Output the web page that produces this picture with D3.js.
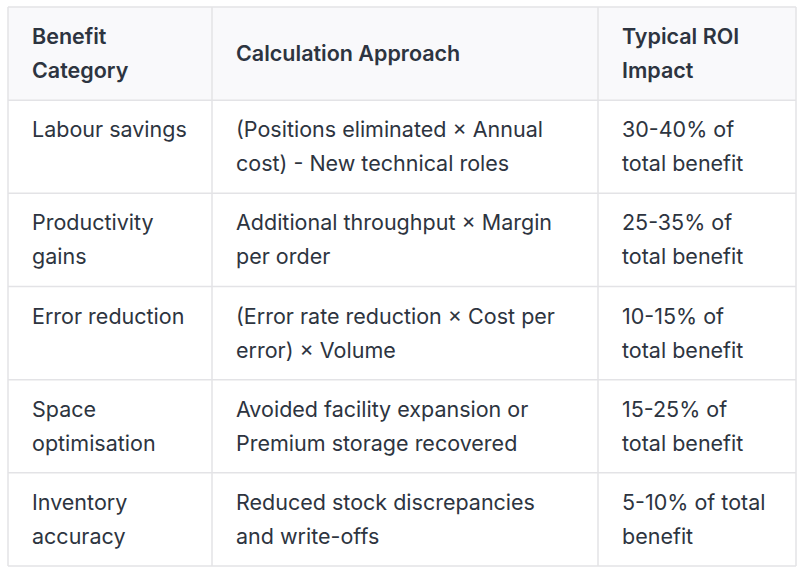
<!DOCTYPE html>
<html>
<head>
<meta charset="utf-8">
<script src="https://cdn.jsdelivr.net/npm/d3@7"></script>
<style>
  body { margin: 0; background: #fff; }
  text { font-family: Inter, "Noto Sans", sans-serif; font-size: 21.5px; fill: #2d3440; }
</style>
</head>
<body>
<svg id="chart" width="800" height="570"></svg>
<script>
// header and body cells, lines broken as in the picture
var headers = [["Benefit", "Category"], ["Calculation Approach"], ["Typical ROI", "Impact"]];
var categories = [["Labour savings"], ["Productivity", "gains"], ["Error reduction"], ["Space", "optimisation"], ["Inventory", "accuracy"]];
var approaches = [
    ["(Positions eliminated \u00d7 Annual", "cost) - New technical roles"],
    ["Additional throughput \u00d7 Margin", "per order"],
    ["(Error rate reduction \u00d7 Cost per", "error) \u00d7 Volume"],
    ["Avoided facility expansion or", "Premium storage recovered"],
    ["Reduced stock discrepancies", "and write-offs"]
];
var impacts = [
    ["30-40% of", "total benefit"],
    ["25-35% of", "total benefit"],
    ["10-15% of", "total benefit"],
    ["15-25% of", "total benefit"],
    ["5-10% of total", "benefit"]
];

var svg = d3.select("#chart");
var colEdges = [8, 212, 598, 796];
var padX = 24, lineH = 34;

var rows = [headers].concat(categories.map(function (c, i) { return [c, approaches[i], impacts[i]]; }));

var y = d3.scaleBand().domain(d3.range(rows.length)).range([7, 566]).padding(0);

rows.forEach(function (row, r) {
    var g = svg.append("g");
    g.append("rect")
        .attr("x", colEdges[0]).attr("y", y(r))
        .attr("width", colEdges[3] - colEdges[0]).attr("height", y.bandwidth())
        .attr("fill", r === 0 ? "#f9f9fb" : "#fff");
    row.forEach(function (lines, c) {
        // header cells are vertically centred, body cells sit at the top
        var top = y(r) + y.bandwidth() / 2 - lineH / 2;
        var cy = r === 0 ? top - (lines.length - 1) * lineH / 2 + lineH / 2 : top;
        g.selectAll(null).data(lines).enter().append("text")
            .attr("x", colEdges[c] + padX)
            .attr("y", function (d, i) { return cy + i * lineH; })
            .attr("dy", "0.35em")
            .attr("font-weight", r === 0 ? 600 : 400)
            .text(function (d) { return d; });
    });
});

// grid lines
var stroke = "#e3e3e6";
svg.selectAll("line.h").data(d3.range(rows.length + 1)).enter().append("line")
    .attr("x1", colEdges[0]).attr("x2", colEdges[3])
    .attr("y1", function (d) { return d === rows.length ? 566 : y(d); })
    .attr("y2", function (d) { return d === rows.length ? 566 : y(d); })
    .attr("stroke", stroke).attr("stroke-width", 1.5);
svg.selectAll("line.v").data(colEdges).enter().append("line")
    .attr("x1", function (d) { return d; }).attr("x2", function (d) { return d; })
    .attr("y1", 7).attr("y2", 566)
    .attr("stroke", stroke).attr("stroke-width", 1.5);
</script>
</body>
</html>
